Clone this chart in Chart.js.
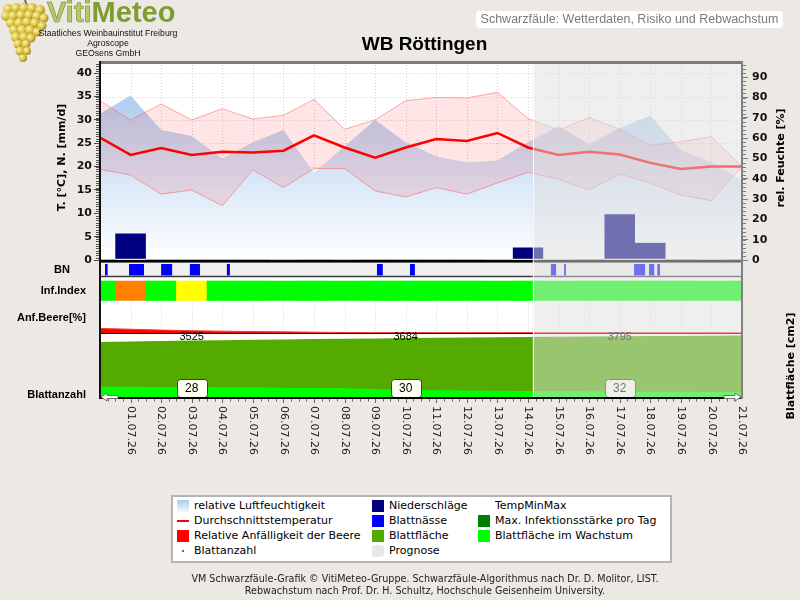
<!DOCTYPE html>
<html lang="de">
<head>
<meta charset="UTF-8">
<title>Schwarzfäule - WB Röttingen</title>
<script src="https://cdn.jsdelivr.net/npm/chart.js"></script>
<style>
  body { margin: 0; background: #ece9e5; font-family: 'Liberation Sans', Arial, sans-serif; }
  #page { position: relative; width: 800px; height: 600px; overflow: hidden; }
  #chart { position: absolute; left: 0; top: 0; }
  .abs { position: absolute; white-space: nowrap; }
  .grapes { position: absolute; left: 0; top: 0; }
  .brand { left: 47px; top: 0; height: 25px; line-height: 25px; font-size: 29px; font-weight: bold; letter-spacing: 0; }
  .brand .a { color: #b5c96c; -webkit-text-stroke: 0.6px #6f8a2a; }
  .brand .b { color: #7f9c31; }
  .org { left: 28px; top: 28px; width: 160px; text-align: center; font-size: 8.7px; line-height: 10px; color: #111; }
  .header { left: 476px; top: 11px; width: 307px; height: 17px; line-height: 17px; background: #fff; border-radius: 4px; text-align: center; font-size: 12.5px; color: #7b7b7b; }
  .title { left: 300px; top: 33px; width: 249px; line-height: 22px; text-align: center; font-size: 19px; font-weight: bold; color: #000; }
  #legend { left: 171px; top: 495px; width: 497px; height: 64px; background: #fff; border: 2px solid #b4b4b4; }
  #legend .item { position: absolute; height: 16px; line-height: 16px; display: flex; align-items: center; font-family: 'DejaVu Sans', sans-serif; font-size: 11px; color: #000; white-space: nowrap; }
  #legend .sw { width: 12px; height: 12px; margin-right: 5px; flex: none; }
  .footer { left: 0; width: 850px; text-align: center; font-family: 'DejaVu Sans', sans-serif; font-size: 9.6px; color: #222; line-height: 12px; }
</style>
</head>
<body>
<div id="page">
  <canvas id="chart" width="800" height="600"></canvas>

  <svg class="grapes" width="50" height="66" viewBox="0 0 50 66">
    <defs>
      <radialGradient id="gr" cx="35%" cy="35%" r="70%">
        <stop offset="0" stop-color="#fbf4a8"/>
        <stop offset="0.55" stop-color="#ddc444"/>
        <stop offset="1" stop-color="#9c8418"/>
      </radialGradient>
    </defs>
    <path d="M25 0 L27 6" stroke="#7a6a30" stroke-width="2"/>
    <g fill="url(#gr)">
      <circle cx="8" cy="9" r="5"/><circle cx="16" cy="8" r="5"/><circle cx="24" cy="8" r="5"/><circle cx="32" cy="8" r="5"/><circle cx="40" cy="10" r="5"/>
      <circle cx="6" cy="16" r="5"/><circle cx="13" cy="16" r="5"/><circle cx="21" cy="15" r="5"/><circle cx="29" cy="15" r="5"/><circle cx="37" cy="16" r="5"/><circle cx="44" cy="18" r="4.5"/>
      <circle cx="11" cy="23" r="5"/><circle cx="19" cy="23" r="5"/><circle cx="27" cy="22" r="5"/><circle cx="35" cy="23" r="5"/><circle cx="42" cy="26" r="4.5"/>
      <circle cx="14" cy="30" r="5"/><circle cx="22" cy="30" r="5"/><circle cx="30" cy="30" r="5"/><circle cx="37" cy="32" r="4.5"/>
      <circle cx="16" cy="37" r="5"/><circle cx="24" cy="37" r="5"/><circle cx="31" cy="38" r="4.5"/>
      <circle cx="18" cy="44" r="4.5"/><circle cx="26" cy="44" r="4.5"/>
      <circle cx="20" cy="51" r="4.5"/><circle cx="27" cy="51" r="4"/>
      <circle cx="23" cy="58" r="4"/>
    </g>
  </svg>
  <div class="abs brand"><span class="a">Viti</span><span class="b">Meteo</span></div>
  <div class="abs org">Staatliches Weinbauinstitut Freiburg<br>Agroscope<br>GEOsens GmbH</div>
  <div class="abs header">Schwarzfäule: Wetterdaten, Risiko und Rebwachstum</div>
  <div class="abs title">WB Röttingen</div>

  <div class="abs" id="legend"></div>
  <div class="abs footer" style="top:573px">VM Schwarzfäule-Grafik © VitiMeteo-Gruppe. Schwarzfäule-Algorithmus nach Dr. D. Molitor, LIST.</div>
  <div class="abs footer" style="top:585px">Rebwachstum nach Prof. Dr. H. Schultz, Hochschule Geisenheim University.</div>
</div>

<script>
// ---- data (day index 0 = 30.06.26) ----
const dates = ['30.06.26', '01.07.26', '02.07.26', '03.07.26', '04.07.26', '05.07.26', '06.07.26', '07.07.26',
  '08.07.26', '09.07.26', '10.07.26', '11.07.26', '12.07.26', '13.07.26', '14.07.26', '15.07.26', '16.07.26',
  '17.07.26', '18.07.26', '19.07.26', '20.07.26', '21.07.26'];
const tempMean = [26.2, 22.5, 24.0, 22.5, 23.2, 23.0, 23.4, 26.7, 24.1, 21.9, 24.1, 25.9, 25.5, 27.2, 24.1, 22.5, 23.2, 22.6, 20.8, 19.5, 20.0, 20.0];
const tempMax = [34.1, 30.0, 33.4, 30.0, 32.4, 30.2, 31.0, 34.4, 28.0, 30.0, 34.1, 34.8, 34.7, 35.9, 30.3, 27.8, 30.5, 28.0, 24.6, 25.3, 26.4, 20.0];
const tempMin = [19.4, 18.2, 14.1, 15.0, 11.6, 19.3, 15.5, 19.6, 19.6, 14.8, 13.5, 15.5, 14.1, 16.5, 18.8, 17.3, 15.0, 18.4, 16.5, 13.9, 12.7, 20.0];
const humidity = [72, 81, 64, 61, 50, 58, 64, 43, 56, 69, 58, 51, 48, 49, 58, 66, 57, 65, 71, 54, 48, 39];
const precip = [0, 5.7, 0, 0, 0, 0, 0, 0, 0, 0, 0, 0, 0, 0, 2.7, 0, 0, 9.8, 3.7, 0, 0, 0];
// leaf wetness periods [start, end] in days
const leafWetness = [[0.16, 0.25], [0.95, 1.44], [2.0, 2.36], [2.94, 3.27], [4.15, 4.25], [9.06, 9.25],
  [10.14, 10.30], [14.75, 14.92], [15.18, 15.24], [17.47, 17.83], [17.96, 18.13], [18.23, 18.32]];
const infIndex = [0, 2, 0, 1, 0, 0, 0, 0, 0, 0, 0, 0, 0, 0, 0, 0, 0, 0, 0, 0, 0, 0];
const berrySusc = [14, 11.5, 9, 7, 5.5, 4.5, 3.5, 2.5, 1.5, 1, 1, 1, 1, 1, 1, 1, 1, 1, 1, 1, 1, 1];
const leafArea = [3440, 3475, 3505, 3525, 3550, 3575, 3598, 3620, 3642, 3663, 3684, 3700, 3716, 3732, 3748, 3764, 3780, 3795, 3808, 3820, 3832, 3843];
const leafGrowing = [645, 640, 632, 622, 610, 597, 583, 566, 545, 495, 440, 425, 410, 395, 380, 368, 356, 345, 335, 325, 318, 312];
const leafCountDays = [3, 10, 17];
const leafCount = [28, 30, 32];
const forecastStart = 14.15;
const tempTicks = [0, 5, 10, 15, 20, 25, 30, 35, 40];
const humTicks = [0, 10, 20, 30, 40, 50, 60, 70, 80, 90];
const tempTop = 42.4, humTop = 97.5;

const infColors = ['#00ff00', '#ffff00', '#ff8000'];

// ---- layout helpers ----
const TOP = 62, BOTTOM = 398;
// range for an axis spanning the whole plot so that [vMin, vMax] lands in the band yTop..yBottom
function band(yTop, yBottom, vMin, vMax) {
  const k = (yBottom - yTop) / (vMax - vMin);
  return { min: vMin - (BOTTOM - yBottom) / k, max: vMax + (yTop - TOP) / k };
}
const pts = arr => arr.map((v, i) => ({ x: i, y: v }));
const bnPoints = leafWetness.flatMap(([s, e]) => [{ x: s, y: 0 }, { x: s, y: 1 }, { x: e, y: 1 }, { x: e, y: 0 }]);

function seg(ctx, x1, y1, x2, y2) { ctx.beginPath(); ctx.moveTo(x1, y1); ctx.lineTo(x2, y2); ctx.stroke(); }

const boldTick = { family: 'DejaVu Sans', size: 11, weight: 'bold' };

const decor = {
  id: 'decor',
  beforeDraw(chart) {
    const { ctx, chartArea: a } = chart;
    ctx.save();
    ctx.fillStyle = '#ffffff';
    ctx.fillRect(a.left, a.top, a.width, a.height);
    ctx.restore();
  },
  beforeDatasetsDraw(chart) {
    const { ctx, chartArea: a, scales: s } = chart;
    ctx.save();
    ctx.strokeStyle = '#d4d4d4';
    ctx.lineWidth = 1;
    ctx.setLineDash([1, 2]);
    const t0 = s.y.getPixelForValue(0);
    const aTop = s.anf.getPixelForValue(100), aBot = s.anf.getPixelForValue(0);
    for (let i = 1; i < dates.length - 1; i++) {
      const px = Math.round(s.x.getPixelForValue(i)) + 0.5;
      seg(ctx, px, a.top, px, t0);
      seg(ctx, px, aTop, px, aBot);
    }
    tempTicks.forEach(v => {
      if (v > 0) {
        const py = Math.round(s.y.getPixelForValue(v)) + 0.5;
        seg(ctx, a.left, py, a.right, py);
      }
    });
    ctx.setLineDash([]);
    // grey strip behind leaf wetness
    const bTop = s.bn.getPixelForValue(1) - 2, bBot = s.bn.getPixelForValue(0) + 1;
    ctx.fillStyle = '#f0f0f0';
    ctx.fillRect(a.left, bTop, a.width, bBot - bTop);
    ctx.restore();
  },
  afterDatasetsDraw(chart) {
    const { ctx, chartArea: a, scales: s } = chart;
    ctx.save();
    const t0 = s.y.getPixelForValue(0);
    const bTop = s.bn.getPixelForValue(1) - 2, bBot = s.bn.getPixelForValue(0) + 1;
    const aBot = s.anf.getPixelForValue(0);
    const lBot = s.leaf.getPixelForValue(0);

    ctx.strokeStyle = '#3a3a3a';
    ctx.lineWidth = 1.5;
    seg(ctx, a.left, bTop, a.right, bTop);
    seg(ctx, a.left, bBot, a.right, bBot);
    ctx.strokeStyle = '#000';
    ctx.lineWidth = 2;
    seg(ctx, a.left, t0 + 1, a.right, t0 + 1);
    ctx.lineWidth = 1;
    seg(ctx, a.left, Math.round(aBot) + 0.5, a.right, Math.round(aBot) + 0.5);

    // leaf area values and leaf count boxes
    ctx.textAlign = 'center';
    ctx.textBaseline = 'middle';
    leafCountDays.forEach((d, k) => {
      const px = s.x.getPixelForValue(d);
      ctx.font = '11px "Liberation Sans"';
      ctx.fillStyle = '#000';
      ctx.fillText(String(leafArea[d]), px, aBot + 3.5);
      ctx.beginPath();
      ctx.roundRect(Math.round(px - 15) + 0.5, lBot - 18 + 0.5, 30, 18, 3);
      ctx.fillStyle = '#fffff0';
      ctx.fill();
      ctx.strokeStyle = '#3c3c3c';
      ctx.stroke();
      ctx.fillStyle = '#000';
      ctx.font = '12px "Liberation Sans"';
      ctx.fillText(String(leafCount[k]), px, lBot - 8.5);
    });

    // forecast overlay
    const fx = s.x.getPixelForValue(forecastStart);
    ctx.fillStyle = 'rgba(224,224,224,0.5)';
    ctx.fillRect(fx, a.top, a.right - fx, a.height);
    ctx.strokeStyle = 'rgba(255,255,255,0.8)';
    seg(ctx, Math.round(fx) + 0.5, a.top, Math.round(fx) + 0.5, a.bottom);

    // frame top
    ctx.strokeStyle = '#7c7c7c';
    ctx.lineWidth = 3;
    seg(ctx, a.left, a.top + 0.5, a.right, a.top + 0.5);

    // time axis with quarter-day ticks and arrows
    ctx.strokeStyle = '#000';
    ctx.lineWidth = 2;
    seg(ctx, a.left, a.bottom, a.right, a.bottom);
    ctx.strokeStyle = '#666';
    ctx.lineWidth = 1;
    for (let q = 1; q < (dates.length - 1) * 4; q++) {
      const px = Math.round(s.x.getPixelForValue(q / 4)) + 0.5;
      seg(ctx, px, a.bottom + 1, px, a.bottom + (q % 4 === 0 ? 5 : 3.5));
    }
    const arrow = (x0, dir) => {
      const y = a.bottom - 1;
      ctx.beginPath();
      ctx.moveTo(x0, y);
      ctx.lineTo(x0 + dir * 6, y - 4);
      ctx.lineTo(x0 + dir * 6, y - 1.5);
      ctx.lineTo(x0 + dir * 17, y - 1.5);
      ctx.lineTo(x0 + dir * 17, y + 1.5);
      ctx.lineTo(x0 + dir * 6, y + 1.5);
      ctx.lineTo(x0 + dir * 6, y + 4);
      ctx.closePath();
      ctx.fillStyle = '#fff';
      ctx.fill();
      ctx.strokeStyle = '#707070';
      ctx.stroke();
    };
    arrow(a.left + 1, 1);
    arrow(a.right - 1, -1);

    // minor ticks on the value axes
    ctx.strokeStyle = '#555';
    for (let v = 0; v <= tempTop; v += 0.5) {
      const py = Math.round(s.y.getPixelForValue(v)) + 0.5;
      seg(ctx, a.left - 4, py, a.left - 1, py);
    }
    ctx.strokeStyle = '#6d7d95';
    for (let v = 0; v <= humTop; v += 2) {
      const py = Math.round(s.y1.getPixelForValue(v)) + 0.5;
      seg(ctx, a.right + 1, py, a.right + 4, py);
    }
    ctx.restore();
  },
  afterDraw(chart) {
    const { ctx, chartArea: a, scales: s } = chart;
    ctx.save();
    // date labels, reading top to bottom
    ctx.font = '11px "DejaVu Sans"';
    ctx.fillStyle = '#1a1a1a';
    ctx.textAlign = 'left';
    ctx.textBaseline = 'middle';
    for (let i = 1; i < dates.length; i++) {
      ctx.save();
      ctx.translate(s.x.getPixelForValue(i), a.bottom + 8);
      ctx.rotate(Math.PI / 2);
      ctx.fillText(dates[i], 0, 0);
      ctx.restore();
    }
    // row labels
    ctx.font = 'bold 11px "Liberation Sans"';
    ctx.fillStyle = '#000';
    ctx.textAlign = 'center';
    ctx.fillText('BN', 62, (s.bn.getPixelForValue(0) + s.bn.getPixelForValue(1)) / 2);
    ctx.textAlign = 'right';
    ctx.fillText('Inf.Index', 86, (s.inf.getPixelForValue(0) + s.inf.getPixelForValue(1)) / 2);
    ctx.fillText('Anf.Beere[%]', 86, s.anf.getPixelForValue(50) + 1);
    ctx.fillText('Blattanzahl', 86, a.bottom - 3);
    // axis titles
    const vtext = (txt, x, y) => {
      ctx.save();
      ctx.translate(x, y);
      ctx.rotate(-Math.PI / 2);
      ctx.textAlign = 'center';
      ctx.textBaseline = 'middle';
      ctx.fillText(txt, 0, 0);
      ctx.restore();
    };
    ctx.font = 'bold 11px "DejaVu Sans"';
    vtext('T. [°C], N. [mm/d]', 62, 157.5);
    vtext('rel. Feuchte [%]', 781, 158);
    vtext('Blattfläche [cm2]', 791, 366);
    ctx.restore();
  }
};

new Chart(document.getElementById('chart'), {
  type: 'line',
  data: {
    datasets: [
      { label: 'Durchschnittstemperatur', data: pts(tempMean), yAxisID: 'y',
        borderColor: '#ff0000', borderWidth: 2.5, pointRadius: 0, order: 1 },
      { label: 'TempMax', data: pts(tempMax), yAxisID: 'y', fill: '+1',
        backgroundColor: 'rgba(255,0,0,0.1)', borderColor: 'rgba(255,100,100,0.55)', borderWidth: 1, pointRadius: 0, order: 3 },
      { label: 'TempMin', data: pts(tempMin), yAxisID: 'y',
        borderColor: 'rgba(255,100,100,0.55)', borderWidth: 1, pointRadius: 0, order: 3 },
      { type: 'bar', label: 'Niederschläge', data: pts(precip), yAxisID: 'y',
        backgroundColor: '#000080', borderColor: '#e6d84a', borderWidth: { top: 0, left: 0, right: 0, bottom: 1 },
        borderSkipped: false, barPercentage: 1, categoryPercentage: 1, grouped: false, order: 2 },
      { label: 'relative Luftfeuchtigkeit', data: pts(humidity), yAxisID: 'y1', fill: 'origin', borderWidth: 0, pointRadius: 0, order: 10,
        backgroundColor: c => {
          const ch = c.chart;
          if (!ch.chartArea) return '#c6dbf2';
          const g = ch.ctx.createLinearGradient(0, ch.scales.y1.getPixelForValue(humTop), 0, ch.scales.y1.getPixelForValue(0));
          g.addColorStop(0, 'rgb(158,195,237)');
          g.addColorStop(1, 'rgb(255,255,255)');
          return g;
        } },
      { label: 'Blattnässe', data: bnPoints, yAxisID: 'bn', fill: 'origin',
        backgroundColor: '#0000ff', borderWidth: 0, pointRadius: 0, order: 5 },
      { type: 'bar', label: 'Inf.Index', data: infIndex.map((v, i) => ({ x: i, y: [0, 1] })), yAxisID: 'inf',
        backgroundColor: infIndex.map(v => infColors[v]), barPercentage: 1, categoryPercentage: 1, grouped: false, order: 5 },
      { label: 'Relative Anfälligkeit der Beere', data: pts(berrySusc), yAxisID: 'anf', fill: 'origin',
        backgroundColor: '#ff0000', borderColor: '#ff3030', borderWidth: 1, pointRadius: 0, order: 5 },
      { label: 'Blattfläche', data: pts(leafArea), yAxisID: 'leaf', fill: 'origin',
        backgroundColor: '#55aa00', borderWidth: 0, pointRadius: 0, order: 7 },
      { label: 'Blattfläche im Wachstum', data: pts(leafGrowing), yAxisID: 'leaf', fill: 'origin',
        backgroundColor: '#00ff00', borderWidth: 0, pointRadius: 0, order: 6 }
    ]
  },
  options: {
    responsive: false,
    animation: false,
    events: [],
    layout: { padding: { top: TOP, bottom: 600 - BOTTOM, left: 0, right: 0 } },
    plugins: { legend: { display: false }, tooltip: { enabled: false } },
    scales: {
      x: { type: 'linear', display: false, min: 0, max: dates.length - 1, offset: false, ticks: { stepSize: 1 } },
      y: {
        position: 'left', ...band(TOP, 260, 0, tempTop),
        afterFit: sc => { sc.width = 100; },
        afterBuildTicks: sc => { sc.ticks = tempTicks.map(v => ({ value: v })); },
        ticks: { font: boldTick, color: '#111', padding: 2 },
        grid: { drawOnChartArea: false, tickLength: 6, tickColor: '#444' },
        border: { color: '#111', width: 2, z: 1 }
      },
      y1: {
        position: 'right', ...band(TOP, 260, 0, humTop),
        afterFit: sc => { sc.width = 58; },
        afterBuildTicks: sc => { sc.ticks = humTicks.map(v => ({ value: v })); },
        ticks: { font: boldTick, color: '#111', padding: 4 },
        grid: { drawOnChartArea: false, tickLength: 6, tickColor: '#6d7d95' },
        border: { color: '#808080', width: 2, z: 1 }
      },
      bn: { display: false, ...band(264, 275.5, 0, 1) },
      inf: { display: false, ...band(281, 300.5, 0, 1) },
      anf: { display: false, ...band(300.5, 333, 0, 100) },
      leaf: { display: false, ...band(333, 397, 0, 4000) }
    }
  },
  plugins: [decor]
});

// ---- legend ----
const legendItems = [
  { text: 'relative Luftfeuchtigkeit', sw: 'linear-gradient(#a9cbef, #f4f8fd)', col: 0, row: 0 },
  { text: 'Durchschnittstemperatur', sw: 'line', col: 0, row: 1 },
  { text: 'Relative Anfälligkeit der Beere', sw: '#ff0000', col: 0, row: 2 },
  { text: 'Blattanzahl', sw: 'dot', col: 0, row: 3 },
  { text: 'Niederschläge', sw: '#000080', col: 1, row: 0 },
  { text: 'Blattnässe', sw: '#0000ff', col: 1, row: 1 },
  { text: 'Blattfläche', sw: '#55aa00', col: 1, row: 2 },
  { text: 'Prognose', sw: '#e8e8e8', col: 1, row: 3 },
  { text: 'TempMinMax', sw: 'none', col: 2, row: 0 },
  { text: 'Max. Infektionsstärke pro Tag', sw: '#008000', col: 2, row: 1 },
  { text: 'Blattfläche im Wachstum', sw: '#00ff00', col: 2, row: 2 }
];
const colX = [4, 199, 305];
const rowY = [9, 24, 38.5, 54];
const legendEl = document.getElementById('legend');
legendItems.forEach(it => {
  const d = document.createElement('div');
  d.className = 'item';
  d.style.left = colX[it.col] + 'px';
  d.style.top = (rowY[it.row] - 8) + 'px';
  const sw = document.createElement('span');
  sw.className = 'sw';
  if (it.sw === 'line') {
    sw.style.background = 'linear-gradient(transparent 5px, #ff0000 5px, #ff0000 7px, transparent 7px)';
  } else if (it.sw === 'dot') {
    sw.style.background = 'radial-gradient(circle at 50% 50%, #2a9a2a 1.2px, transparent 1.6px)';
  } else if (it.sw === 'none') {
    sw.style.background = 'transparent';
  } else {
    sw.style.background = it.sw;
    if (it.text === 'Prognose') sw.style.borderRadius = '3px';
  }
  d.appendChild(sw);
  d.appendChild(document.createTextNode(it.text));
  legendEl.appendChild(d);
});
</script>
</body>
</html>
